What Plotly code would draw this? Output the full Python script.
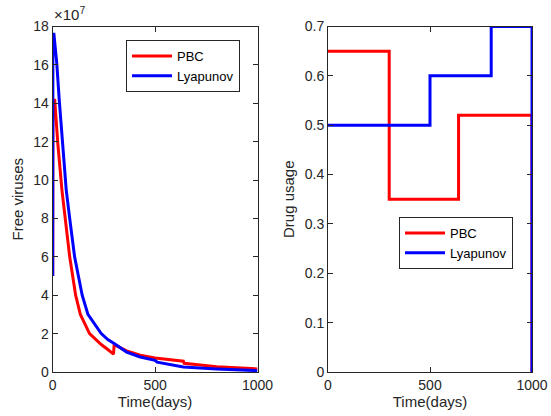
import plotly.graph_objects as go

# Left panel: free viruses (units of 1e7)
pbc_t = [0, 1, 10, 25, 45, 62, 83, 112, 135, 180, 205, 237, 269, 297, 300, 330, 361, 427, 500, 638, 642, 801, 1000]
pbc_v = [5.0, 14.2, 14.16, 11.9, 9.49, 8.0, 6.0, 4.0, 3.0, 2.0, 1.75, 1.43, 1.17, 0.93, 1.43, 1.25, 1.10, 0.87, 0.73, 0.56, 0.45, 0.28, 0.16]
lya_t = [0, 1, 6, 20, 32, 50, 66, 83, 107, 144, 172, 237, 269, 300, 330, 361, 427, 500, 510, 638, 801, 1000]
lya_v = [5.0, 17.6, 17.6, 16.07, 14.16, 11.6, 9.49, 8.0, 6.0, 4.0, 3.0, 2.0, 1.69, 1.48, 1.25, 1.04, 0.78, 0.61, 0.51, 0.26, 0.16, 0.07]

# Right panel: drug usage (piecewise constant)
pbc_u_t = [0, 300, 640, 1000, 1000]
pbc_u_v = [0.65, 0.35, 0.52, 0.52, 0.0]
lya_u_t = [0, 500, 800, 1000, 1000]
lya_u_v = [0.5, 0.6, 0.7, 0.7, 0.0]

left_yticks = [0, 2, 4, 6, 8, 10, 12, 14, 16, 18]
right_yticks = [0, 0.1, 0.2, 0.3, 0.4, 0.5, 0.6, 0.7]
right_yticktext = ["0", "0.1", "0.2", "0.3", "0.4", "0.5", "0.6", "0.7"]
xticks = [0, 500, 1000]

RED = "#ff0000"
BLUE = "#0000ff"
FONT = "Liberation Sans, Arial, sans-serif"
AX = "#262626"

W, H = 551, 416
fig = go.Figure()

fig.add_trace(go.Scatter(x=pbc_t, y=pbc_v, mode="lines", name="PBC",
                         line=dict(color=RED, width=3), xaxis="x", yaxis="y", legend="legend"))
fig.add_trace(go.Scatter(x=lya_t, y=lya_v, mode="lines", name="Lyapunov",
                         line=dict(color=BLUE, width=3), xaxis="x", yaxis="y", legend="legend"))
fig.add_trace(go.Scatter(x=pbc_u_t, y=pbc_u_v, mode="lines", name="PBC", line_shape="hv",
                         line=dict(color=RED, width=3), xaxis="x2", yaxis="y2", legend="legend2"))
fig.add_trace(go.Scatter(x=lya_u_t, y=lya_u_v, mode="lines", name="Lyapunov", line_shape="hv",
                         line=dict(color=BLUE, width=3), xaxis="x2", yaxis="y2", legend="legend2"))

axcommon = dict(showline=True, linecolor=AX, linewidth=1, mirror="ticks", ticks="inside",
                ticklen=5, tickcolor=AX, showgrid=False, zeroline=False, automargin=False,
                tickfont=dict(family=FONT, size=14, color=AX))

ydom = [(H - 372) / H, (H - 26.5) / H]
title_font = dict(family=FONT, size=15, color=AX)
fig.update_layout(
    width=W, height=H,
    margin=dict(l=0, r=0, t=0, b=0),
    paper_bgcolor="white", plot_bgcolor="white",
    font=dict(family=FONT, size=14, color=AX),
    xaxis=dict(domain=[52.7 / W, 257.5 / W], range=[0, 1000], tickvals=xticks,
               title=dict(text="Time(days)", standoff=2, font=title_font), anchor="y", **axcommon),
    yaxis=dict(domain=ydom, range=[0, 18], tickvals=left_yticks,
               title=dict(text="Free viruses", standoff=6, font=title_font), anchor="x", **axcommon),
    xaxis2=dict(domain=[328 / W, 532 / W], range=[0, 1000], tickvals=xticks,
                title=dict(text="Time(days)", standoff=2, font=title_font), anchor="y2", **axcommon),
    yaxis2=dict(domain=ydom, range=[0, 0.7], tickvals=right_yticks, ticktext=right_yticktext,
                title=dict(text="Drug usage", standoff=6, font=title_font), anchor="x2", **axcommon),
    legend=dict(x=126 / W, y=1 - 40 / H, xanchor="left", yanchor="top", bgcolor="white",
                bordercolor=AX, borderwidth=1, font=dict(family=FONT, size=13, color="black"),
                tracegroupgap=0, itemwidth=40),
    legend2=dict(x=399 / W, y=1 - 217 / H, xanchor="left", yanchor="top", bgcolor="white",
                 bordercolor=AX, borderwidth=1, font=dict(family=FONT, size=13, color="black"),
                 tracegroupgap=0, itemwidth=40),
    showlegend=True,
)

fig.add_annotation(text="×10<sup>7</sup>", xref="paper", yref="paper",
                   x=52 / W, y=1 - 25 / H, xanchor="left", yanchor="bottom",
                   showarrow=False, font=dict(family=FONT, size=15, color=AX))

fig.write_html("out.html", config={"displayModeBar": False},
               post_script="document.body.style.margin='0';document.body.style.overflow='hidden';")
